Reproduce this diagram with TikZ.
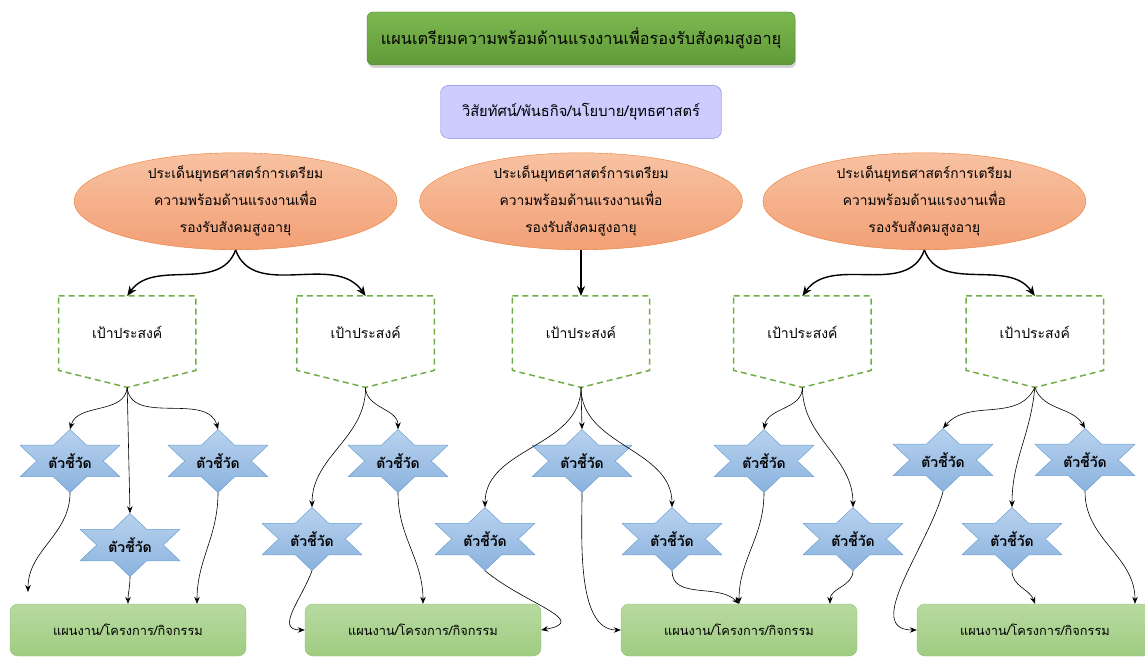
\documentclass[tikz,border=0pt]{standalone}
\usepackage{fontspec}
\newfontfamily\thaifont[Script=Thai]{Loma}
\usepackage{tikz}
\usetikzlibrary{shapes.geometric, arrows.meta, positioning, calc, shadows}

\definecolor{headtop}{RGB}{124,184,80}
\definecolor{headbot}{RGB}{96,154,56}
\definecolor{headline}{RGB}{84,130,53}
\definecolor{visfill}{RGB}{204,204,255}
\definecolor{visline}{RGB}{120,140,215}
\definecolor{issuetop}{RGB}{248,194,162}
\definecolor{issuebot}{RGB}{242,160,118}
\definecolor{issueline}{RGB}{237,125,49}
\definecolor{goalgreen}{RGB}{112,173,71}
\definecolor{kpitop}{RGB}{184,210,238}
\definecolor{kpibot}{RGB}{138,178,222}
\definecolor{kpiline}{RGB}{110,160,210}
\definecolor{worktop}{RGB}{184,218,160}
\definecolor{workbot}{RGB}{160,204,130}
\definecolor{workline}{RGB}{140,192,104}

% จุดของดาวหกแฉก (วัดจากกลางโหนด)
\newcommand{\kp}[2]{($(path picture bounding box.center)+(#1pt,#2pt)$)}

\begin{document}
\begin{tikzpicture}[
  x=1pt, y=1pt,
  head/.style={rectangle, rounded corners=6pt, draw=headline, top color=headtop, bottom color=headbot,
    drop shadow={opacity=0.35, shadow xshift=1pt, shadow yshift=-3pt},
    minimum width=428pt, minimum height=53pt, font=\thaifont\fontsize{16.3}{18}\selectfont},
  vis/.style={rectangle, rounded corners=8pt, draw=visline, fill=visfill, minimum width=281pt, minimum height=53pt,
    font=\thaifont\fontsize{14.7}{17}\selectfont},
  issue/.style={ellipse, draw=issueline, top color=issuetop, bottom color=issuebot, minimum width=323pt,
    minimum height=97pt, inner sep=-5pt, align=center, font=\thaifont\fontsize{13.8}{27}\selectfont},
  goal/.style={rectangle, minimum width=137pt, minimum height=91pt, inner sep=0pt, text height=10pt, text depth=16pt,
    font=\thaifont\fontsize{14}{17}\selectfont},
  goalline/.style={draw=goalgreen, line width=1.5pt, dash pattern=on 6pt off 4pt},
  kpishape/.style={draw=kpiline, line width=0.5pt, top color=kpitop, bottom color=kpibot},
  kpi/.style={rectangle, minimum width=100pt, minimum height=63pt, inner sep=0pt,
    font=\thaifont\bfseries\fontsize{14}{17}\selectfont,
    path picture={\path[kpishape]
      \kp{0}{31.5} -- \kp{16.7}{15.75} -- \kp{50}{15.75} -- \kp{33.3}{0} -- \kp{50}{-15.75} -- \kp{16.7}{-15.75}
      -- \kp{0}{-31.5} -- \kp{-16.7}{-15.75} -- \kp{-50}{-15.75} -- \kp{-33.3}{0} -- \kp{-50}{15.75}
      -- \kp{-16.7}{15.75} -- cycle;}},
  work/.style={rectangle, rounded corners=8pt, draw=workline, top color=worktop, bottom color=workbot,
    minimum width=236pt, minimum height=52pt, font=\thaifont\fontsize{12.8}{15}\selectfont},
  arr/.style={-{Stealth[length=7pt, width=5.5pt]}, line width=0.6pt},
  arrb/.style={-{Stealth[length=10pt, width=8pt]}, line width=1.4pt}
  ]
  \useasboundingbox (0,0) rectangle (1145,656);

  \node[head] (title) at (581,617.5) {แผนเตรียมความพร้อมด้านแรงงานเพื่อรองรับสังคมสูงอายุ};
  \node[vis, below=20pt of title] (vision) {วิสัยทัศน์/พันธกิจ/นโยบาย/ยุทธศาสตร์};

  % ประเด็นยุทธศาสตร์
  \node[issue, below=14pt of vision] (is2) {ประเด็นยุทธศาสตร์การเตรียม\\ความพร้อมด้านแรงงานเพื่อ\\รองรับสังคมสูงอายุ};
  \node[issue, left=22pt of is2] (is1) {ประเด็นยุทธศาสตร์การเตรียม\\ความพร้อมด้านแรงงานเพื่อ\\รองรับสังคมสูงอายุ};
  \node[issue, right=20pt of is2] (is3) {ประเด็นยุทธศาสตร์การเตรียม\\ความพร้อมด้านแรงงานเพื่อ\\รองรับสังคมสูงอายุ};

  % เป้าประสงค์
  \node[goal, below=46pt of is2] (g3) {เป้าประสงค์};
  \node[goal, left=78pt of g3] (g2) {เป้าประสงค์};
  \node[goal, left=101pt of g2] (g1) {เป้าประสงค์};
  \node[goal, right=84pt of g3] (g4) {เป้าประสงค์};
  \node[goal, right=95pt of g4] (g5) {เป้าประสงค์};
  \foreach \g in {g1,g2,g3,g4,g5}
    \draw[goalline] (\g.north west) -- (\g.north east) -- ([yshift=17pt]\g.south east) -- (\g.south)
      -- ([yshift=17pt]\g.south west) -- cycle;

  % ตัวชี้วัด
  \node[kpi] (k1) at (70,195) {ตัวชี้วัด};
  \node[kpi] (k2) at (130,111) {ตัวชี้วัด};
  \node[kpi] (k3) at (218,195) {ตัวชี้วัด};
  \node[kpi] (k4) at (312,117) {ตัวชี้วัด};
  \node[kpi] (k5) at (398,195) {ตัวชี้วัด};
  \node[kpi] (k6) at (485,117) {ตัวชี้วัด};
  \node[kpi] (k7) at (582,195) {ตัวชี้วัด};
  \node[kpi] (k8) at (672,117) {ตัวชี้วัด};
  \node[kpi] (k9) at (764,195) {ตัวชี้วัด};
  \node[kpi] (k10) at (853,117) {ตัวชี้วัด};
  \node[kpi] (k11) at (943,196) {ตัวชี้วัด};
  \node[kpi] (k12) at (1012,117) {ตัวชี้วัด};
  \node[kpi] (k13) at (1085,196) {ตัวชี้วัด};

  % แผนงาน
  \node[work] (w1) at (128,26) {แผนงาน/โครงการ/กิจกรรม};
  \node[work] (w2) at (423,26) {แผนงาน/โครงการ/กิจกรรม};
  \node[work] (w3) at (739,26) {แผนงาน/โครงการ/กิจกรรม};
  \node[work] (w4) at (1035,26) {แผนงาน/โครงการ/กิจกรรม};
  \coordinate (e1) at (28,64);

  % ประเด็น -> เป้าประสงค์
  \draw[arrb] (is1.south) to[out=-110, in=55] (g1.north);
  \draw[arrb] (is1.south) to[out=-70, in=125] (g2.north);
  \draw[arrb] (is2.south) -- (g3.north);
  \draw[arrb] (is3.south) to[out=-110, in=55] (g4.north);
  \draw[arrb] (is3.south) to[out=-70, in=125] (g5.north);

  % เป้าประสงค์ -> ตัวชี้วัด
  \draw[arr] (g1.south) to[out=-95, in=75] (k1.north);
  \draw[arr] (g1.south) -- (k2.north);
  \draw[arr] (g1.south) to[out=-85, in=105] (k3.north);
  \draw[arr] (g2.south) to[out=-90, in=90] (k4.north);
  \draw[arr] (g2.south) to[out=-90, in=90] (k5.north);
  \draw[arr] (g3.south) to[out=-90, in=90] (k6.north);
  \draw[arr] (g3.south) -- (k7.north);
  \draw[arr] (g3.south) to[out=-90, in=90] (k8.north);
  \draw[arr] (g4.south) to[out=-90, in=80] (k9.north);
  \draw[arr] (g4.south) to[out=-90, in=90] (k10.north);
  \draw[arr] (g5.south) to[out=-115, in=50] (k11.north);
  \draw[arr] (g5.south) to[out=-95, in=90] (k12.north);
  \draw[arr] (g5.south) to[out=-70, in=120] (k13.north);

  % ตัวชี้วัด -> แผนงาน
  \draw[arr] (k1.south) to[out=-90, in=90] (e1);
  \draw[arr] (k2.south) to[out=-90, in=90] (w1.north);
  \draw[arr] (k3.south) to[out=-90, in=90] ([xshift=69pt]w1.north);
  \draw[arr] (k4.south) to[out=-110, in=180, looseness=1.3] (w2.west);
  \draw[arr] (k5.south) to[out=-90, in=90] (w2.north);
  \draw[arr] (k6.south) to[out=-40, in=10, looseness=1.6] (w2.east);
  \draw[arr] (k7.south) to[out=-90, in=180, looseness=0.8] (w3.west);
  \draw[arr] (k8.south) to[out=-90, in=135] (w3.north);
  \draw[arr] (k9.south) to[out=-90, in=90] (w3.north);
  \draw[arr] (k10.south) to[out=-90, in=90] ([xshift=91pt]w3.north);
  \draw[arr] (k11.south) to[out=-105, in=180] (w4.west);
  \draw[arr] (k12.south) to[out=-90, in=110] (w4.north);
  \draw[arr] (k13.south) to[out=-90, in=90] ([xshift=100pt]w4.north);
\end{tikzpicture}
\end{document}
